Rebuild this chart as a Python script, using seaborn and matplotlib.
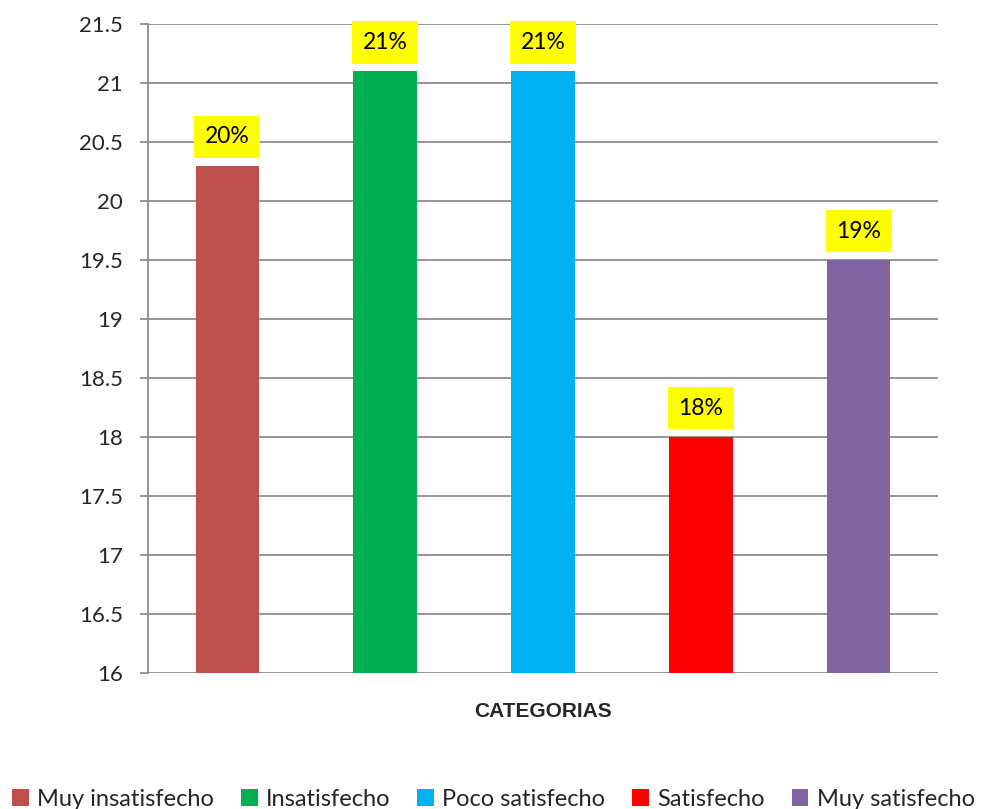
import matplotlib
matplotlib.use("Agg")
import matplotlib.pyplot as plt
import seaborn as sns
import pandas as pd
from matplotlib.patches import Patch

categories = ["Muy insatisfecho", "Insatisfecho", "Poco satisfecho", "Satisfecho", "Muy satisfecho"]
values = [20.3, 21.1, 21.1, 18.0, 19.5]
labels = ["20%", "21%", "21%", "18%", "19%"]
colors = ["#C0504D", "#00B050", "#00B0F0", "#FF0000", "#8064A2"]
yticks = [16, 16.5, 17, 17.5, 18, 18.5, 19, 19.5, 20, 20.5, 21, 21.5]

sns.set_theme(style="white")
plt.rcParams['font.family'] = ['Lato', 'DejaVu Sans']

df = pd.DataFrame({"cat": categories, "val": values})
fig = plt.figure(figsize=(9.81, 8.09), dpi=100)
ax = fig.add_axes([0.151, 0.168, 0.805, 0.802])

sns.barplot(data=df, x="cat", y="val", hue="cat", palette=colors, width=0.4,
            legend=False, ax=ax, saturation=1, linewidth=0)

ax.set_ylim(16, 21.5)
ax.set_yticks(yticks)
ax.set_yticklabels([f"{t:g}" for t in yticks], fontsize=16)
ax.set_xlim(-0.5, 4.5)
ax.set_xticks([])
ax.yaxis.grid(True, color="#8c8c8c", linewidth=1.3)
ax.set_axisbelow(True)
for s in ["top", "right", "bottom"]:
    ax.spines[s].set_visible(False)
ax.spines["left"].set_color("#8c8c8c")
ax.spines["left"].set_linewidth(1.3)
ax.tick_params(axis="y", which="major", left=True, length=6, width=1.3, color="#8c8c8c", pad=12)
ax.set_ylabel("")
ax.set_xlabel("CATEGORIAS", fontsize=15, fontweight="bold", family=["Liberation Sans"], labelpad=21)

for i, (v, lab) in enumerate(zip(values, labels)):
    ax.annotate(lab, xy=(i, v), xytext=(0, 29), textcoords="offset pixels",
                ha="center", va="center", fontsize=16.5, color="black",
                bbox=dict(boxstyle="square,pad=0.47", facecolor="#FFFF00", edgecolor="none"))

handles = [Patch(facecolor=c, edgecolor="none") for c in colors]
fig.legend(handles, categories, loc="lower center", ncol=5, frameon=False, fontsize=17,
           bbox_to_anchor=(0.503, -0.027), handlelength=0.7, handleheight=0.7, handletextpad=0.35,
           columnspacing=1.15)

fig.savefig("out.png", dpi=100)
